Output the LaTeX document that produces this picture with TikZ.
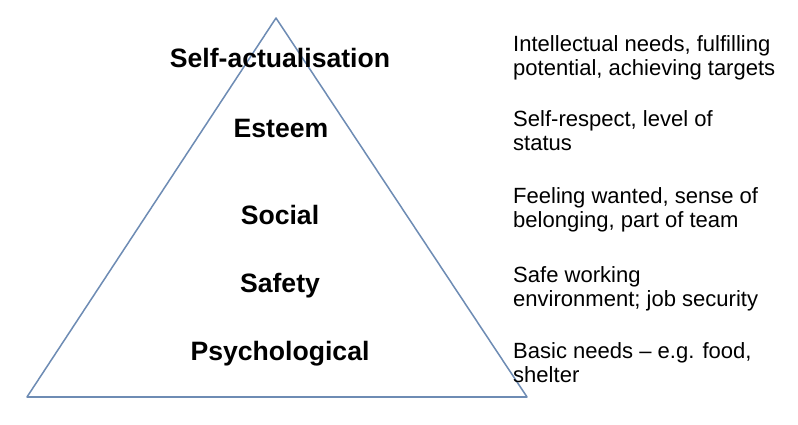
\documentclass[tikz,border=0pt]{standalone}
\usepackage{fontspec}
\setmainfont{Liberation Sans}
\usetikzlibrary{positioning}
\definecolor{edgeblue}{RGB}{110,140,180}
\begin{document}
\begin{tikzpicture}[x=0.03cm, y=-0.03cm,
levelnode/.style={font=\fontsize{22.7}{26}\selectfont\bfseries, inner sep=0pt},
notenode/.style={font=\fontsize{18.8}{20.8}\selectfont, align=left, anchor=north west, inner sep=0pt},
]
\useasboundingbox (0,0) rectangle (798,425);
%Triangle
\coordinate (top) at (276,18);
\coordinate (bl) at (27,397);
\coordinate (br) at (527,397);
\draw[edgeblue, line width=1.3pt, line join=round] (top) -- (br) -- (bl) -- cycle;

%Levels
\node[levelnode] (self)   at (280,58)  {Self-actualisation};
\node[levelnode] (esteem) at (281,128) {Esteem};
\node[levelnode] (social) at (280,215) {Social};
\node[levelnode] (safety) at (280,286) {Safety};
\node[levelnode] (psych)  at (280,354) {Psychological};

%Notes
\node[notenode] (n1) at (513,35)  {Intellectual needs, fulfilling\\potential, achieving targets};
\node[notenode] (n2) at (513,110) {Self-respect, level of\\status};
\node[notenode] (n3) at (513,187) {Feeling wanted, sense of\\belonging, part of team};
\node[notenode] (n4) at (513,266) {Safe working\\environment; job security};
\node[notenode] (n5) at (513,342) {Basic needs -- e.g. food,\\shelter};
\end{tikzpicture}
\end{document}
